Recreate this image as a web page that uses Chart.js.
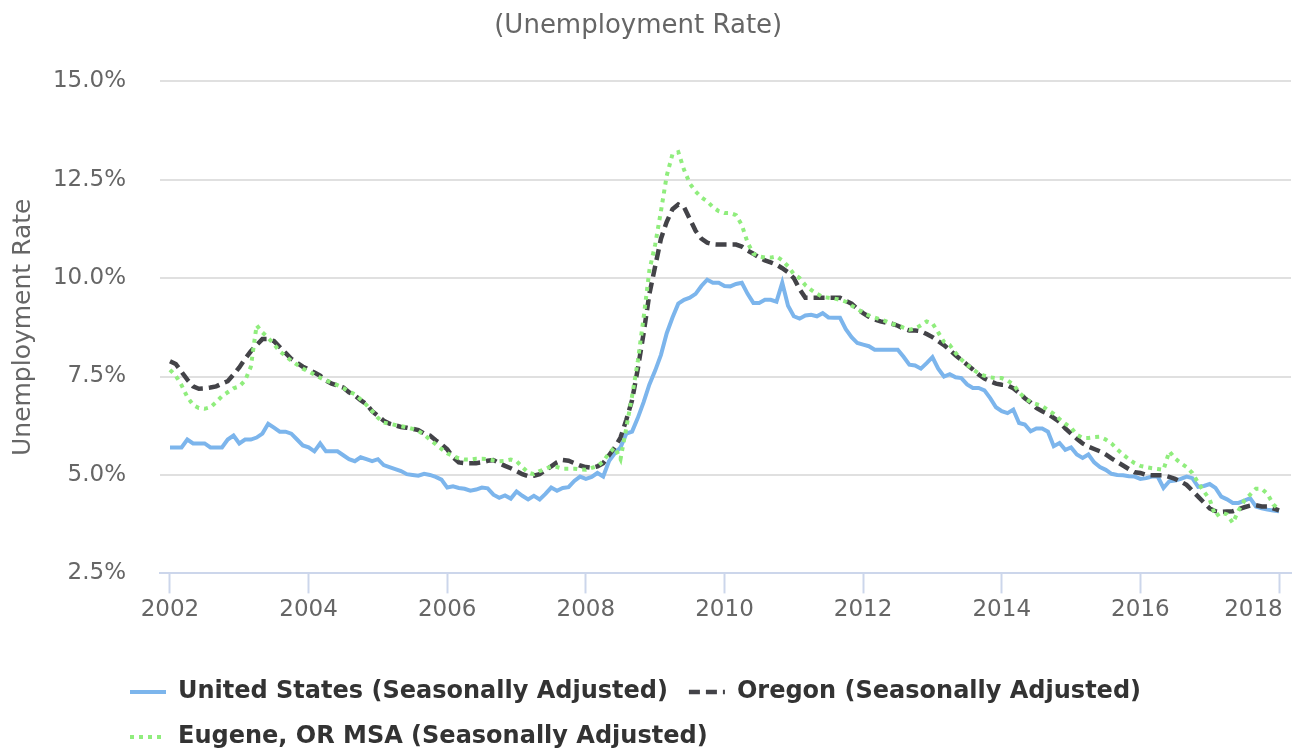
<!DOCTYPE html>
<html>
<head>
<meta charset="utf-8">
<script src="https://cdn.jsdelivr.net/npm/chart.js@4.4.1/dist/chart.umd.min.js"></script>
<style>
  body { margin: 0; background: #fff; }
</style>
</head>
<body>
<canvas id="chart" width="1302" height="752"></canvas>
<script>
// monthly values, Jan 2002 .. Jan 2018
const startYear = 2002;
const yearTicks = [2002, 2004, 2006, 2008, 2010, 2012, 2014, 2016, 2018];

const usRate = [
  5.7,5.7,5.7,5.9,5.8,5.8,5.8,5.7,5.7,5.7,5.9,6.0,
  5.8,5.9,5.9,5.95,6.05,6.3,6.2,6.1,6.1,6.05,5.9,5.75,
  5.7,5.6,5.8,5.6,5.6,5.6,5.5,5.4,5.35,5.45,5.4,5.35,
  5.4,5.25,5.2,5.15,5.1,5.02,5.0,4.98,5.03,5.0,4.95,4.88,
  4.68,4.71,4.67,4.65,4.6,4.63,4.68,4.66,4.5,4.42,4.48,4.4,
  4.58,4.47,4.38,4.47,4.38,4.52,4.68,4.6,4.67,4.69,4.85,4.96,
  4.9,4.95,5.05,4.96,5.35,5.55,5.7,6.05,6.1,6.45,6.85,7.3,
  7.65,8.05,8.6,9.0,9.35,9.45,9.5,9.6,9.8,9.96,9.88,9.88,
  9.8,9.79,9.85,9.88,9.6,9.37,9.37,9.45,9.45,9.4,9.88,9.3,
  9.03,8.97,9.05,9.07,9.03,9.11,9.0,8.99,8.99,8.7,8.5,8.35,
  8.31,8.27,8.18,8.18,8.18,8.18,8.18,8.0,7.8,7.78,7.7,7.84,
  7.99,7.7,7.5,7.56,7.48,7.46,7.3,7.21,7.21,7.15,6.95,6.72,
  6.62,6.57,6.66,6.32,6.28,6.11,6.18,6.18,6.1,5.73,5.81,5.64,
  5.7,5.52,5.43,5.52,5.32,5.2,5.13,5.03,5.0,4.99,4.97,4.96,
  4.9,4.92,4.96,4.96,4.67,4.84,4.86,4.9,4.96,4.92,4.7,4.72,
  4.77,4.67,4.45,4.38,4.29,4.29,4.35,4.41,4.2,4.15,4.12,4.1,
  4.08
];

const oregonRate = [
  7.89,7.82,7.62,7.42,7.25,7.19,7.2,7.22,7.25,7.32,7.38,7.55,
  7.73,7.95,8.14,8.3,8.45,8.45,8.4,8.25,8.1,7.95,7.85,7.75,
  7.68,7.6,7.52,7.4,7.32,7.27,7.22,7.1,7.02,6.9,6.8,6.62,
  6.5,6.38,6.3,6.26,6.22,6.2,6.17,6.14,6.05,6.0,5.88,5.78,
  5.65,5.45,5.32,5.3,5.3,5.3,5.32,5.36,5.38,5.3,5.23,5.17,
  5.1,5.02,4.97,4.98,5.02,5.12,5.22,5.32,5.38,5.36,5.3,5.24,
  5.2,5.18,5.22,5.3,5.5,5.7,5.95,6.4,6.9,7.7,8.6,9.6,
  10.3,11.0,11.43,11.75,11.87,11.8,11.5,11.2,11.0,10.9,10.86,10.85,
  10.85,10.85,10.85,10.8,10.7,10.62,10.52,10.45,10.4,10.34,10.25,10.15,
  10.0,9.72,9.5,9.5,9.5,9.5,9.5,9.5,9.5,9.42,9.35,9.22,
  9.11,9.02,8.95,8.9,8.87,8.84,8.79,8.72,8.67,8.67,8.65,8.58,
  8.5,8.4,8.3,8.17,8.04,7.92,7.8,7.68,7.55,7.45,7.38,7.32,
  7.29,7.28,7.2,7.08,6.95,6.84,6.7,6.62,6.55,6.45,6.35,6.18,
  6.05,5.92,5.8,5.72,5.66,5.6,5.52,5.42,5.33,5.24,5.15,5.07,
  5.05,5.0,4.99,4.99,4.99,4.95,4.9,4.83,4.75,4.6,4.45,4.3,
  4.15,4.08,4.06,4.07,4.08,4.13,4.18,4.22,4.23,4.2,4.2,4.15,
  4.1
];

const eugeneRate = [
  7.67,7.52,7.28,6.98,6.78,6.7,6.68,6.72,6.85,7.0,7.1,7.2,
  7.25,7.4,7.75,8.8,8.62,8.48,8.32,8.14,8.02,7.9,7.8,7.7,
  7.63,7.55,7.47,7.4,7.34,7.28,7.21,7.12,7.05,6.92,6.78,6.62,
  6.45,6.33,6.3,6.27,6.24,6.21,6.17,6.12,6.02,5.9,5.78,5.66,
  5.55,5.48,5.42,5.39,5.39,5.41,5.41,5.4,5.37,5.35,5.36,5.39,
  5.35,5.2,5.06,5.02,5.1,5.15,5.22,5.2,5.16,5.16,5.16,5.14,
  5.13,5.18,5.22,5.35,5.55,5.7,5.4,6.2,7.0,7.9,9.0,10.2,
  10.85,11.7,12.6,13.15,13.2,12.75,12.4,12.2,12.05,11.95,11.8,11.7,
  11.65,11.65,11.6,11.35,10.9,10.62,10.55,10.52,10.52,10.55,10.45,10.3,
  10.1,10.0,9.82,9.7,9.6,9.52,9.5,9.48,9.45,9.4,9.3,9.22,
  9.12,9.05,9.0,8.95,8.9,8.84,8.8,8.74,8.69,8.72,8.8,8.9,
  8.85,8.62,8.38,8.3,8.1,7.93,7.8,7.68,7.58,7.52,7.48,7.46,
  7.46,7.4,7.3,7.1,6.95,6.85,6.8,6.75,6.65,6.55,6.42,6.3,
  6.2,6.02,5.94,5.94,5.96,5.97,5.9,5.8,5.65,5.52,5.4,5.3,
  5.23,5.2,5.17,5.15,5.13,5.6,5.42,5.3,5.2,5.05,4.8,4.58,
  4.38,3.95,4.05,4.0,3.78,4.1,4.35,4.5,4.65,4.65,4.52,4.25,
  4.12
];

function monthly(values) {
  return values.map((v, i) => ({ x: startYear + i / 12, y: v }));
}

const font = "'DejaVu Sans', 'Liberation Sans', sans-serif";

// legend sits lower and further right than Chart.js puts it
const legendNudge = {
  id: 'legendNudge',
  afterLayout(chart) {
    const lg = chart.legend;
    lg.left += 107;
    lg.top += 32;
    lg.bottom += 32;
  }
};

// point-style legend items lose the dataset dash, put it back
function legendLabels(chart) {
  const items = Chart.defaults.plugins.legend.labels.generateLabels(chart);
  items.forEach(item => {
    item.lineDash = chart.data.datasets[item.datasetIndex].borderDash || [];
  });
  return items;
}

new Chart(document.getElementById('chart'), {
  type: 'line',
  data: {
    datasets: [
      {
        label: 'United States (Seasonally Adjusted)',
        data: monthly(usRate),
        borderColor: '#7cb5ec',
        backgroundColor: '#7cb5ec',
        borderWidth: 4,
        order: 3
      },
      {
        label: 'Oregon (Seasonally Adjusted)',
        data: monthly(oregonRate),
        borderColor: '#434348',
        backgroundColor: '#434348',
        borderWidth: 4.5,
        borderDash: [11, 6],
        order: 2
      },
      {
        label: 'Eugene, OR MSA (Seasonally Adjusted)',
        data: monthly(eugeneRate),
        borderColor: '#90ed7d',
        backgroundColor: '#90ed7d',
        borderWidth: 4,
        borderDash: [4, 5],
        order: 1
      }
    ]
  },
  options: {
    responsive: false,
    animation: false,
    layout: { padding: { left: 2, right: 11, top: 0, bottom: 25 } },
    elements: { point: { radius: 0 }, line: { tension: 0 } },
    scales: {
      x: {
        type: 'linear',
        min: 2001.856,
        max: 2018.173,
        afterBuildTicks: s => { s.ticks = yearTicks.map(v => ({ value: v })); },
        afterFit: s => { s.paddingRight = 0; },
        grid: { drawOnChartArea: false, tickColor: '#ccd6eb', tickLength: 20, tickWidth: 2 },
        border: { color: '#ccd6eb', width: 2 },
        ticks: {
          padding: 3,
          color: '#666',
          font: { family: font, size: 23 },
          maxRotation: 0,
          callback: v => v === 2018 ? '2018       ' : String(v)
        }
      },
      y: {
        min: 2.5,
        max: 15,
        afterFit: s => { s.width = 158; },
        grid: { color: '#e0e0e0', lineWidth: 2, drawTicks: false },
        border: { display: false },
        ticks: {
          stepSize: 2.5,
          padding: 34,
          color: '#666',
          font: { family: font, size: 23 },
          callback: v => v.toFixed(1) + '%'
        },
        title: {
          display: true,
          text: 'Unemployment Rate',
          color: '#666',
          font: { family: font, size: 25 },
          padding: { top: 6, bottom: 15 }
        }
      }
    },
    plugins: {
      title: {
        display: true,
        text: '(Unemployment Rate)  ',
        color: '#666',
        font: { family: font, size: 26, weight: 'normal' },
        padding: { top: 11, bottom: 39 }
      },
      legend: {
        position: 'bottom',
        align: 'start',
        labels: {
          usePointStyle: true,
          pointStyle: 'line',
          pointStyleWidth: 36,
          padding: 21,
          color: '#333',
          font: { family: font, size: 24, weight: 'bold' },
          generateLabels: legendLabels,
          sort: (a, b) => a.datasetIndex - b.datasetIndex
        }
      },
      tooltip: { enabled: false }
    }
  },
  plugins: [legendNudge]
});
</script>
</body>
</html>
